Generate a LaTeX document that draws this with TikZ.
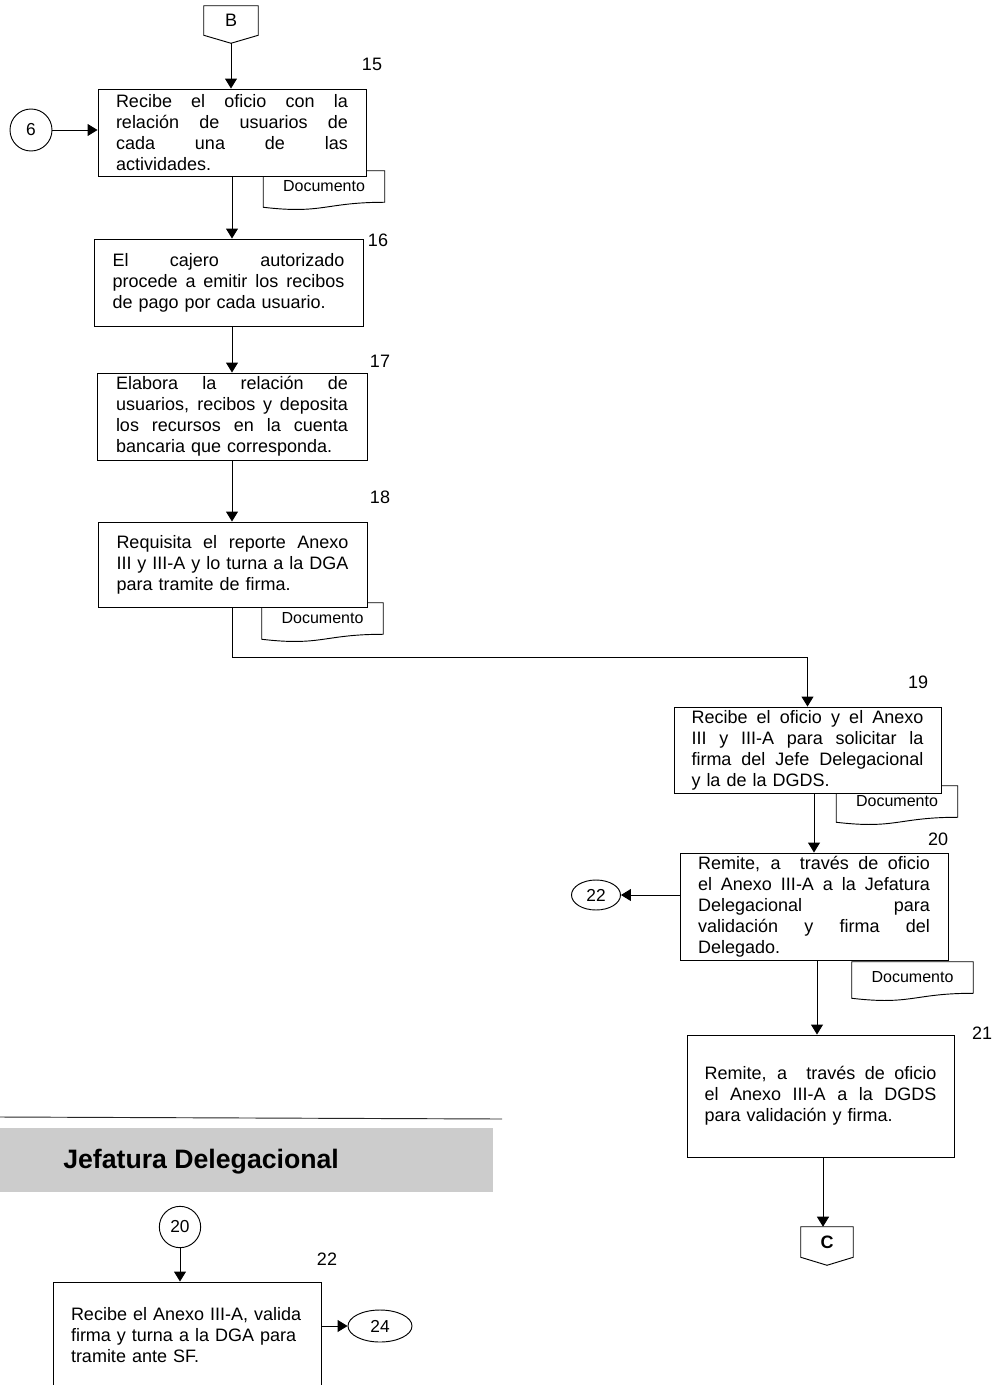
\documentclass[tikz,border=0pt]{standalone}
\usepackage{fontspec}
\setmainfont{Liberation Sans}
\usetikzlibrary{arrows.meta,calc,shapes.geometric}

% width of the text inside the process boxes
\newlength{\boxtw}
\setlength{\boxtw}{174pt}
% justified line of fixed width (font's stretchable spaces), then a line break
\newcommand{\jl}[1]{\makebox[\boxtw][s]{\spaceskip=0pt\xspaceskip=0pt\relax #1}\\}
% document symbol: rectangle with a wavy lower edge
\newcommand{\docshape}[1]{\draw[docline] ($(#1.south west)+(0,5)$) -- (#1.north west) -- (#1.north east) -- (#1.south east) .. controls +(-60,0) and +(60,7) .. ($(#1.south west)+(0,5)$) -- cycle;}
% off-page connector: box with a pointed lower edge
\newcommand{\offpage}[1]{\draw[line width=0.7pt] (#1.north west) -- (#1.north east) -- (#1.south east) -- ($(#1.south)+(0,8)$) -- (#1.south west) -- cycle;}

\begin{document}
\begin{tikzpicture}[x=0.75pt,y=-0.75pt,
  every node/.style={inner sep=0pt},
  box/.style={draw, fill=white, line width=0.7pt, text width=\boxtw, align=left,
    font=\fontsize{13.5}{15.75}\selectfont},
  doc/.style={minimum width=90.75pt, minimum height=23.25pt, font=\fontsize{12}{14}\selectfont},
  docline/.style={line width=0.7pt},
  lbl/.style={font=\fontsize{13.5}{16}\selectfont},
  conn/.style={draw, circle, line width=0.7pt, font=\fontsize{13}{15}\selectfont},
  oval/.style={draw, ellipse, line width=0.7pt, font=\fontsize{13}{15}\selectfont},
  arr/.style={-{Triangle[length=7.5pt,width=9pt]}, line width=0.7pt},
  pg/.style={font=\fontsize{13.5}{15}\selectfont}
]
\useasboundingbox (0,0) rectangle (999,1385);
\clip (0,0) rectangle (999,1385);

% documents (drawn first so the process boxes sit on top of them)
\node[doc] (d15) at (324,186.5) {Documento};
\docshape{d15}
\node[doc] (d18) at (322.5,618.5) {Documento};
\docshape{d18}
\node[doc] (d19) at (897,801.5) {Documento};
\docshape{d19}
\node[doc] (d20) at (912.5,977.5) {Documento};
\docshape{d20}

% off-page connectors
\node[pg, minimum width=40.5pt, minimum height=21.75pt] (B) at (231,20.5) {B};
\offpage{B}
\coordinate (Btip) at ($(B.south)+(0,8)$);
\node[pg, minimum width=39pt, minimum height=22.5pt, font=\fontsize{13.5}{15}\selectfont\bfseries] (C) at (827,1242) {C};
\offpage{C}

% on-page connectors
\node[conn, minimum size=31.5pt] (c6) at (31,130) {6};
\node[oval, minimum width=36.75pt, minimum height=22.5pt] (c22) at (596,895) {22};
\node[conn, minimum size=31pt] (c20) at (180,1227) {20};
\node[oval, minimum width=48pt, minimum height=24pt] (c24) at (380,1326) {24};

% process boxes
\node[box, minimum width=201pt, minimum height=65.25pt] (b15) at (232,132.5) {%
\jl{Recibe el oficio con la}\jl{relación de usuarios de}\jl{cada una de las}actividades.};
\node[box, minimum width=201.75pt, minimum height=65.25pt] (b16) at (228.5,282.5) {%
\jl{El cajero autorizado}\jl{procede a emitir los recibos}de pago por cada usuario.};
\node[box, minimum width=202.5pt, minimum height=65.25pt] (b17) at (232,416.5) {%
\jl{Elabora la relación de}\jl{usuarios, recibos y deposita}\jl{los recursos en la cuenta}bancaria que corresponda.};
\node[box, minimum width=201.75pt, minimum height=63.75pt] (b18) at (232.5,564.5) {%
\jl{Requisita el reporte Anexo}\jl{III y III-A y lo turna a la DGA}para tramite de firma.};
\node[box, minimum width=200.25pt, minimum height=64.5pt] (b19) at (807.5,750) {%
\jl{Recibe el oficio y el Anexo}\jl{III y III-A para solicitar la}\jl{firma del Jefe Delegacional}y la de la DGDS.};
\node[box, minimum width=201pt, minimum height=80.25pt] (b20) at (814,906.5) {%
\jl{Remite, a\ \ través de oficio}\jl{el Anexo III-A a la Jefatura}\jl{Delegacional para}\jl{validación y firma del}Delegado.};
\node[box, minimum width=200.25pt, minimum height=91.5pt] (b21) at (820.5,1096) {%
\jl{Remite, a\ \ través de oficio}\jl{el Anexo III-A a la DGDS}para validación y firma.};

% step numbers
\node[lbl] (n15) at (372,64.5) {15};
\node[lbl] (n16) at (378,240) {16};
\node[lbl] (n17) at (380,361) {17};
\node[lbl] (n18) at (380,497) {18};
\node[lbl] (n19) at (918,682) {19};
\node[lbl] (n20) at (938,839) {20};
\node[lbl] (n21) at (982,1033.5) {21};
\node[lbl] (n22) at (327,1259) {22};

% lane separator and lane title
\coordinate (sepL) at (0,1117);
\coordinate (sepR) at (502,1119);
\draw[line width=0.7pt, black!85] (sepL) -- (sepR);
\fill[black!20] (0,1128) rectangle (493,1192);
\node[anchor=west, font=\fontsize{20}{24}\selectfont\bfseries] (lane) at (63,1162) {Jefatura Delegacional};

% step 22 (runs past the lower edge)
\node[draw, fill=white, line width=0.7pt, minimum width=201pt, minimum height=111pt] (b22) at (187,1356) {};
\node[text width=\boxtw, align=left, font=\fontsize{13.5}{15.75}\selectfont] (t22) at (187,1335) {%
Recibe el Anexo III-A, valida\\firma y turna a la DGA para\\tramite ante SF.};

% flow
\draw[arr] (Btip) -- (Btip |- b15.north);
\draw[arr] (c6.east) -- (c6.east -| b15.west);
\draw[arr] (b15.south) -- (b15.south |- b16.north);
\draw[arr] (b17.north |- b16.south) -- (b17.north);
\draw[arr] (b17.south) -- (b17.south |- b18.north);
\draw[arr] (b18.south) -- ++(0,50) -| (b19.north);
\draw[arr] (b20.north |- b19.south) -- (b20.north);
\draw[arr] (b20.west |- c22.east) -- (c22.east);
\draw[arr] ($(b20.south)+(3,0)$) -- ($(b20.south |- b21.north)+(3,0)$);
\draw[arr] ($(b21.south)+(2.5,0)$) -- ($(b21.south |- C.north)+(2.5,0)$);
\draw[arr] (c20.south) -- (c20.south |- b22.north);
\draw[arr] (c24.west -| b22.east) -- (c24.west);
\end{tikzpicture}
\end{document}
